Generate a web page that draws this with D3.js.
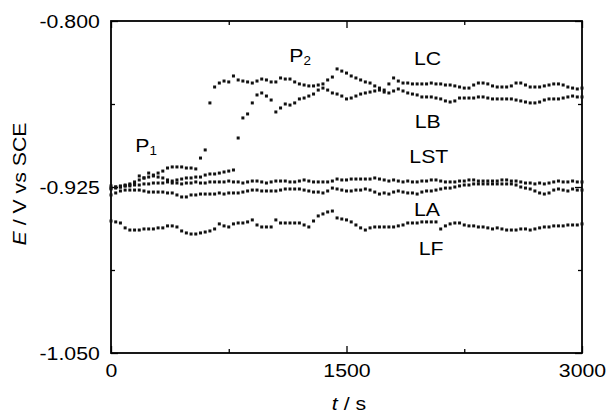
<!DOCTYPE html>
<html>
<head>
<meta charset="utf-8">
<script src="https://cdn.jsdelivr.net/npm/d3@7"></script>
<style>
  body { margin: 0; background: #fff; }
  svg { display: block; }
  text { font-family: "Liberation Sans", Arial, sans-serif; fill: #000; }
</style>
</head>
<body>
<svg width="609" height="418"></svg>
<script>
// sampled every 30 s, 0 .. 3000 s
const step = 30

const LC = [-0.9265,-0.9258,-0.9250,-0.9235,-0.9227,-0.9212,-0.9197,-0.9182,-0.9175,-0.9160,
  -0.9145,-0.9130,-0.9107,-0.9099,-0.9099,-0.9099,-0.9107,-0.9107,-0.9114,-0.9032,
  -0.8971,-0.8617,-0.8497,-0.8467,-0.8452,-0.8459,-0.8414,-0.8444,-0.8452,-0.8459,
  -0.8467,-0.8452,-0.8437,-0.8444,-0.8459,-0.8459,-0.8429,-0.8437,
  -0.8437,-0.8459,-0.8474,-0.8482,-0.8489,-0.8489,-0.8482,-0.8474,-0.8444,-0.8422,-0.8361,-0.8377,
  -0.8392,-0.8414,-0.8429,-0.8444,-0.8459,-0.8467,-0.8489,-0.8505,-0.8520,-0.8474,-0.8429,-0.8452,-0.8467,-0.8467,-0.8474,-0.8474,
  -0.8474,-0.8474,-0.8467,-0.8474,-0.8474,-0.8482,-0.8482,-0.8489,-0.8497,-0.8505,
  -0.8505,-0.8482,-0.8467,-0.8467,-0.8474,-0.8489,-0.8497,-0.8497,-0.8497,-0.8489,
  -0.8467,-0.8467,-0.8482,-0.8497,-0.8497,-0.8497,-0.8489,-0.8482,-0.8474,-0.8474,
  -0.8482,-0.8497,-0.8505,-0.8512,-0.8505]

const LB = [-0.9242,-0.9250,-0.9250,-0.9242,-0.9235,-0.9227,-0.9167,-0.9182,-0.9145,-0.9167,
  -0.9175,-0.9182,-0.9197,-0.9205,-0.9197,-0.9190,-0.9182,-0.9182,-0.9175,-0.9175,
  -0.9160,-0.9152,-0.9152,-0.9145,-0.9137,-0.9130,-0.9122,
  -0.8881,-0.8730,-0.8700,-0.8617,-0.8557,-0.8542,-0.8565,-0.8595,-0.8685,-0.8655,-0.8625,
  -0.8633,-0.8617,-0.8587,-0.8580,-0.8565,-0.8550,-0.8520,-0.8505,-0.8520,-0.8542,-0.8550,-0.8565,
  -0.8587,-0.8580,-0.8565,-0.8550,-0.8542,-0.8535,-0.8527,-0.8520,-0.8535,-0.8542,-0.8527,-0.8512,-0.8527,-0.8542,-0.8550,-0.8557,
  -0.8572,-0.8572,-0.8572,-0.8580,-0.8587,-0.8602,-0.8610,-0.8602,-0.8580,-0.8580,
  -0.8580,-0.8580,-0.8572,-0.8572,-0.8580,-0.8587,-0.8587,-0.8587,-0.8587,-0.8587,
  -0.8595,-0.8602,-0.8610,-0.8617,-0.8617,-0.8610,-0.8595,-0.8587,-0.8587,-0.8587,
  -0.8580,-0.8572,-0.8565,-0.8572,-0.8572]

const LST = [-0.9258,-0.9250,-0.9242,-0.9242,-0.9242,-0.9235,-0.9235,-0.9227,-0.9227,-0.9220,
  -0.9220,-0.9220,-0.9212,-0.9220,-0.9220,-0.9227,-0.9220,-0.9220,-0.9212,-0.9220,
  -0.9220,-0.9212,-0.9212,-0.9212,-0.9212,-0.9205,-0.9212,-0.9212,-0.9220,-0.9212,
  -0.9205,-0.9205,-0.9212,-0.9220,-0.9212,-0.9205,-0.9205,-0.9205,-0.9212,-0.9212,
  -0.9205,-0.9197,-0.9205,-0.9212,-0.9212,-0.9212,-0.9212,-0.9205,-0.9190,-0.9197,
  -0.9197,-0.9190,-0.9190,-0.9190,-0.9190,-0.9190,-0.9182,-0.9190,-0.9197,-0.9205,
  -0.9197,-0.9205,-0.9212,-0.9205,-0.9212,-0.9212,-0.9205,-0.9205,-0.9197,-0.9197,
  -0.9205,-0.9212,-0.9212,-0.9212,-0.9205,-0.9205,-0.9197,-0.9197,-0.9205,-0.9205,
  -0.9205,-0.9205,-0.9205,-0.9197,-0.9197,-0.9205,-0.9205,-0.9212,-0.9220,-0.9220,
  -0.9227,-0.9220,-0.9227,-0.9220,-0.9212,-0.9205,-0.9212,-0.9212,-0.9205,-0.9212,
  -0.9212]

const LA = [-0.9310,-0.9295,-0.9280,-0.9273,-0.9273,-0.9273,-0.9273,-0.9280,-0.9288,-0.9288,
  -0.9288,-0.9288,-0.9295,-0.9295,-0.9310,-0.9325,-0.9325,-0.9310,-0.9310,-0.9303,
  -0.9303,-0.9303,-0.9303,-0.9295,-0.9303,-0.9295,-0.9295,-0.9295,-0.9288,-0.9280,
  -0.9273,-0.9273,-0.9280,-0.9280,-0.9280,-0.9280,-0.9273,-0.9265,-0.9265,-0.9265,
  -0.9265,-0.9273,-0.9280,-0.9288,-0.9288,-0.9295,-0.9280,-0.9258,-0.9265,-0.9273,
  -0.9280,-0.9280,-0.9273,-0.9273,-0.9265,-0.9273,-0.9288,-0.9303,-0.9295,-0.9303,
  -0.9288,-0.9280,-0.9288,-0.9295,-0.9295,-0.9303,-0.9288,-0.9280,-0.9280,-0.9273,
  -0.9265,-0.9258,-0.9258,-0.9250,-0.9242,-0.9235,-0.9235,-0.9227,-0.9227,-0.9227,
  -0.9227,-0.9227,-0.9227,-0.9227,-0.9227,-0.9227,-0.9235,-0.9250,-0.9258,-0.9265,
  -0.9280,-0.9295,-0.9303,-0.9295,-0.9273,-0.9265,-0.9273,-0.9280,-0.9265,-0.9273,
  -0.9273]

const LF = [-0.9506,-0.9513,-0.9521,-0.9558,-0.9574,-0.9574,-0.9574,-0.9566,-0.9566,-0.9566,
  -0.9558,-0.9558,-0.9543,-0.9543,-0.9551,-0.9581,-0.9596,-0.9604,-0.9604,-0.9596,
  -0.9589,-0.9581,-0.9566,-0.9528,-0.9543,-0.9551,-0.9528,-0.9521,-0.9521,-0.9513,
  -0.9498,-0.9536,-0.9551,-0.9551,-0.9551,-0.9498,-0.9521,-0.9521,-0.9521,-0.9521,
  -0.9521,-0.9536,-0.9551,-0.9506,-0.9468,-0.9453,-0.9438,-0.9431,-0.9483,-0.9491,
  -0.9498,-0.9513,-0.9536,-0.9558,-0.9574,-0.9558,-0.9551,-0.9551,-0.9551,-0.9551,
  -0.9551,-0.9543,-0.9536,-0.9521,-0.9521,-0.9521,-0.9513,-0.9513,-0.9513,-0.9513,
  -0.9566,-0.9543,-0.9528,-0.9521,-0.9521,-0.9536,-0.9543,-0.9543,-0.9551,-0.9551,
  -0.9558,-0.9566,-0.9558,-0.9566,-0.9574,-0.9574,-0.9574,-0.9566,-0.9566,-0.9574,
  -0.9566,-0.9558,-0.9551,-0.9551,-0.9543,-0.9543,-0.9543,-0.9536,-0.9536,-0.9536,
  -0.9528]

const xTicks = [0, 1500, 3000]
const xMinor = [750, 2250]
const yTicks = [-1.050, -0.925, -0.800]
const yMinor = [-0.9875, -0.8625]

// curve labels: name, time, potential where the text sits
const curveLabels = [
  ['LC', 1930, -0.8333],
  ['LB', 1935, -0.8808],
  ['LST', 1900, -0.9072],
  ['LA', 1930, -0.9470],
  ['LF', 1960, -0.9764]
]

const svg = d3.select('svg')
const x = d3.scaleLinear().domain([0, 3000]).range([111, 582])
const y = d3.scaleLinear().domain([-1.05, -0.8]).range([353, 21])
const stretch = 'scale(1.12,1)'
const fs = 19

const styleAxis = g => {
  g.select('.domain').remove()
  g.selectAll('line').attr('stroke', '#000').attr('stroke-width', 1.3)
  g.selectAll('text').attr('font-size', fs).attr('font-family', '"Liberation Sans", Arial, sans-serif')
    .attr('fill', '#000')
}

// major + minor ticks, all pointing inward
svg.append('g').attr('transform', 'translate(111,0)')
  .call(d3.axisLeft(y).tickValues(yTicks).tickSize(-7).tickPadding(10).tickFormat(d => d.toFixed(3)))
  .call(styleAxis)
  .selectAll('text').attr('transform', stretch)
svg.append('g').attr('transform', 'translate(111,0)')
  .call(d3.axisLeft(y).tickValues(yMinor).tickSize(-4).tickFormat(''))
  .call(styleAxis)
svg.append('g').attr('transform', 'translate(582,0)')
  .call(d3.axisRight(y).tickValues(yTicks).tickSize(-7).tickFormat(''))
  .call(styleAxis)
svg.append('g').attr('transform', 'translate(582,0)')
  .call(d3.axisRight(y).tickValues(yMinor).tickSize(-4).tickFormat(''))
  .call(styleAxis)

svg.append('g').attr('transform', 'translate(0,353)')
  .call(d3.axisBottom(x).tickValues(xTicks).tickSize(-7).tickPadding(11).tickFormat(d3.format('d')))
  .call(styleAxis)
  .selectAll('text').attr('transform', stretch)
svg.append('g').attr('transform', 'translate(0,353)')
  .call(d3.axisBottom(x).tickValues(xMinor).tickSize(-4).tickFormat(''))
  .call(styleAxis)
svg.append('g').attr('transform', 'translate(0,21)')
  .call(d3.axisTop(x).tickValues(xTicks).tickSize(-7).tickFormat(''))
  .call(styleAxis)
svg.append('g').attr('transform', 'translate(0,21)')
  .call(d3.axisTop(x).tickValues(xMinor).tickSize(-4).tickFormat(''))
  .call(styleAxis)

// frame
svg.append('rect')
  .attr('x', x(0)).attr('y', y(-0.8))
  .attr('width', x(3000) - x(0)).attr('height', y(-1.05) - y(-0.8))
  .attr('fill', 'none').attr('stroke', '#000').attr('stroke-width', 1.8)

// markers
const series = [LC, LB, LST, LA, LF]
const ms = 3
series.forEach(vals => {
  svg.append('g').selectAll('rect').data(vals)
    .enter().append('rect')
      .attr('x', (d, i) => x(i * step) - ms / 2)
      .attr('y', d => y(d) - ms / 2)
      .attr('width', ms)
      .attr('height', ms)
      .attr('fill', '#111')
})

// curve names
curveLabels.forEach(([name, t, v]) => {
  svg.append('text')
    .attr('transform', `translate(${x(t)},${y(v)}) ${stretch}`)
    .attr('font-size', fs)
    .text(name)
})

// P1 and P2 markers
const peak = (lbl, sub, t, v) => {
  const tx = svg.append('text')
    .attr('transform', `translate(${x(t)},${y(v)}) ${stretch}`)
    .attr('font-size', fs)
  tx.append('tspan').text(lbl)
  tx.append('tspan').attr('font-size', 12).attr('dy', 3).text(sub)
}
peak('P', '1', 155, -0.8983)
peak('P', '2', 1135, -0.8309)

// axis titles
const yl = svg.append('text')
  .attr('transform', `translate(26,184) rotate(-90) ${stretch}`)
  .attr('text-anchor', 'middle')
  .attr('font-size', fs)
yl.append('tspan').attr('font-style', 'italic').text('E')
yl.append('tspan').text(' / V vs SCE')

const xl = svg.append('text')
  .attr('transform', `translate(349,410) ${stretch}`)
  .attr('text-anchor', 'middle')
  .attr('font-size', fs)
xl.append('tspan').attr('font-style', 'italic').text('t')
xl.append('tspan').text(' / s')
</script>
</body>
</html>
